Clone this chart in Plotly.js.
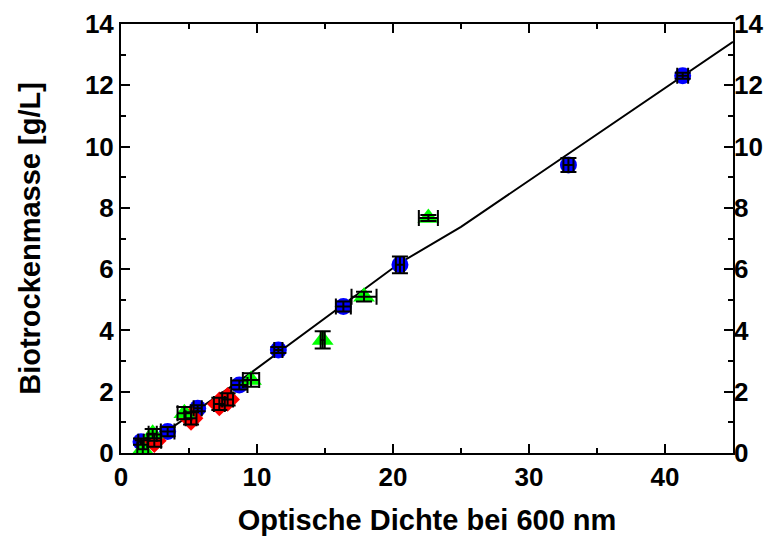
<!DOCTYPE html>
<html><head><meta charset="utf-8">
<script src="https://cdn.plot.ly/plotly-3.0.1.min.js"></script>
<style>body{margin:0;background:#fff}#c{width:777px;height:539px}</style>
</head><body><div id="c"></div>
<script>
// Blue circles
const blueX = [1.47, 3.43, 5.64, 8.7, 11.57, 16.35, 20.51, 32.9, 41.3];
const blueY = [0.37, 0.70, 1.46, 2.22, 3.36, 4.78, 6.14, 9.40, 12.31];
const blueXErr = [0.2, 0.5, 0.3, 0.6, 0.3, 0.55, 0.3, 0.37, 0.4];
const blueYErr = [0.1, 0.15, 0.1, 0.15, 0.1, 0.16, 0.27, 0.23, 0.1];
// Red diamonds
const redX = [2.45, 5.15, 7.23, 7.84];
const redY = [0.40, 1.13, 1.60, 1.75];
const redXErr = [0.5, 0.4, 0.4, 0.4];
const redYErr = [0.2, 0.2, 0.2, 0.2];
// Green triangles
const greenX = [1.6, 2.33, 4.66, 9.56, 14.83, 17.87, 22.6];
const greenY = [0.12, 0.63, 1.30, 2.38, 3.69, 5.10, 7.67];
const greenXErr = [0.4, 0.3, 0.5, 0.6, 0.15, 0.92, 0.7];
const greenYErr = [0.3, 0.15, 0.2, 0.22, 0.28, 0.16, 0.1];
// Fit line
const fitX = [1.2, 9.5, 20.5, 25.0, 45.0];
const fitY = [0.05, 2.6, 6.2, 7.38, 13.42];

const errStyle = (arr) => ({type:'data', array:arr, visible:true, color:'#000', thickness:2, width:8});
function pts(x, y, color, symbol, size){
  return {x:x, y:y, type:'scatter', mode:'markers',
    marker:{color:color, symbol:symbol, size:size, line:{width:0}},
    showlegend:false, cliponaxis:false};
}
function errs(x, y, xe, ye){
  return {x:x, y:y, type:'scatter', mode:'markers', marker:{opacity:0, size:1},
    error_x: errStyle(xe), error_y: errStyle(ye), showlegend:false, cliponaxis:false};
}
const tfont = {family:'Arial, "Liberation Sans", sans-serif', size:26, color:'#000', weight:'bold'};
const afont = {family:'Arial, "Liberation Sans", sans-serif', size:29, color:'#000', weight:'bold'};
const data = [
  {x:fitX, y:fitY, type:'scatter', mode:'lines', line:{color:'#000', width:2}, showlegend:false},
  pts(blueX, blueY, '#0000ff', 'circle', 17),
  pts(redX, redY, '#ff0000', 'diamond', 19),
  pts(greenX, greenY, '#00ff00', 'triangle-up', 19),
  errs(blueX, blueY, blueXErr, blueYErr),
  errs(redX, redY, redXErr, redYErr),
  errs(greenX, greenY, greenXErr, greenYErr),
  {x:[0], y:[0], yaxis:'y2', type:'scatter', mode:'markers', marker:{opacity:0}, showlegend:false, hoverinfo:'skip'}
];
const layout = {
  width:777, height:539,
  margin:{l:121, r:44, t:24, b:86},
  paper_bgcolor:'#fff', plot_bgcolor:'#fff',
  font: tfont,
  xaxis:{range:[0,45], dtick:10, tick0:0, ticks:'inside', ticklen:9, tickwidth:2, tickcolor:'#000',
    minor:{dtick:5, ticks:'inside', ticklen:5, tickwidth:2, tickcolor:'#000'},
    showline:true, linewidth:2, linecolor:'#000', mirror:'ticks', showgrid:false, zeroline:false,
    tickfont:tfont, automargin:false,
    title:{text:'Optische Dichte bei 600 nm', font:afont, standoff:18}},
  yaxis:{range:[0,14], dtick:2, tick0:0, ticks:'inside', ticklen:9, tickwidth:2, tickcolor:'#000',
    minor:{dtick:1, ticks:'inside', ticklen:5, tickwidth:2, tickcolor:'#000'},
    showline:true, linewidth:2, linecolor:'#000', mirror:'ticks', showgrid:false, zeroline:false,
    tickfont:tfont, automargin:false,
    title:{text:'Biotrockenmasse [g/L]', font:afont, standoff:36}},
  yaxis2:{range:[0,14], dtick:2, tick0:0, overlaying:'y', side:'right', ticks:'', showgrid:false,
    zeroline:false, showline:false, tickfont:tfont, automargin:false}
};
Plotly.newPlot('c', data, layout, {staticPlot:true});
</script></body></html>
